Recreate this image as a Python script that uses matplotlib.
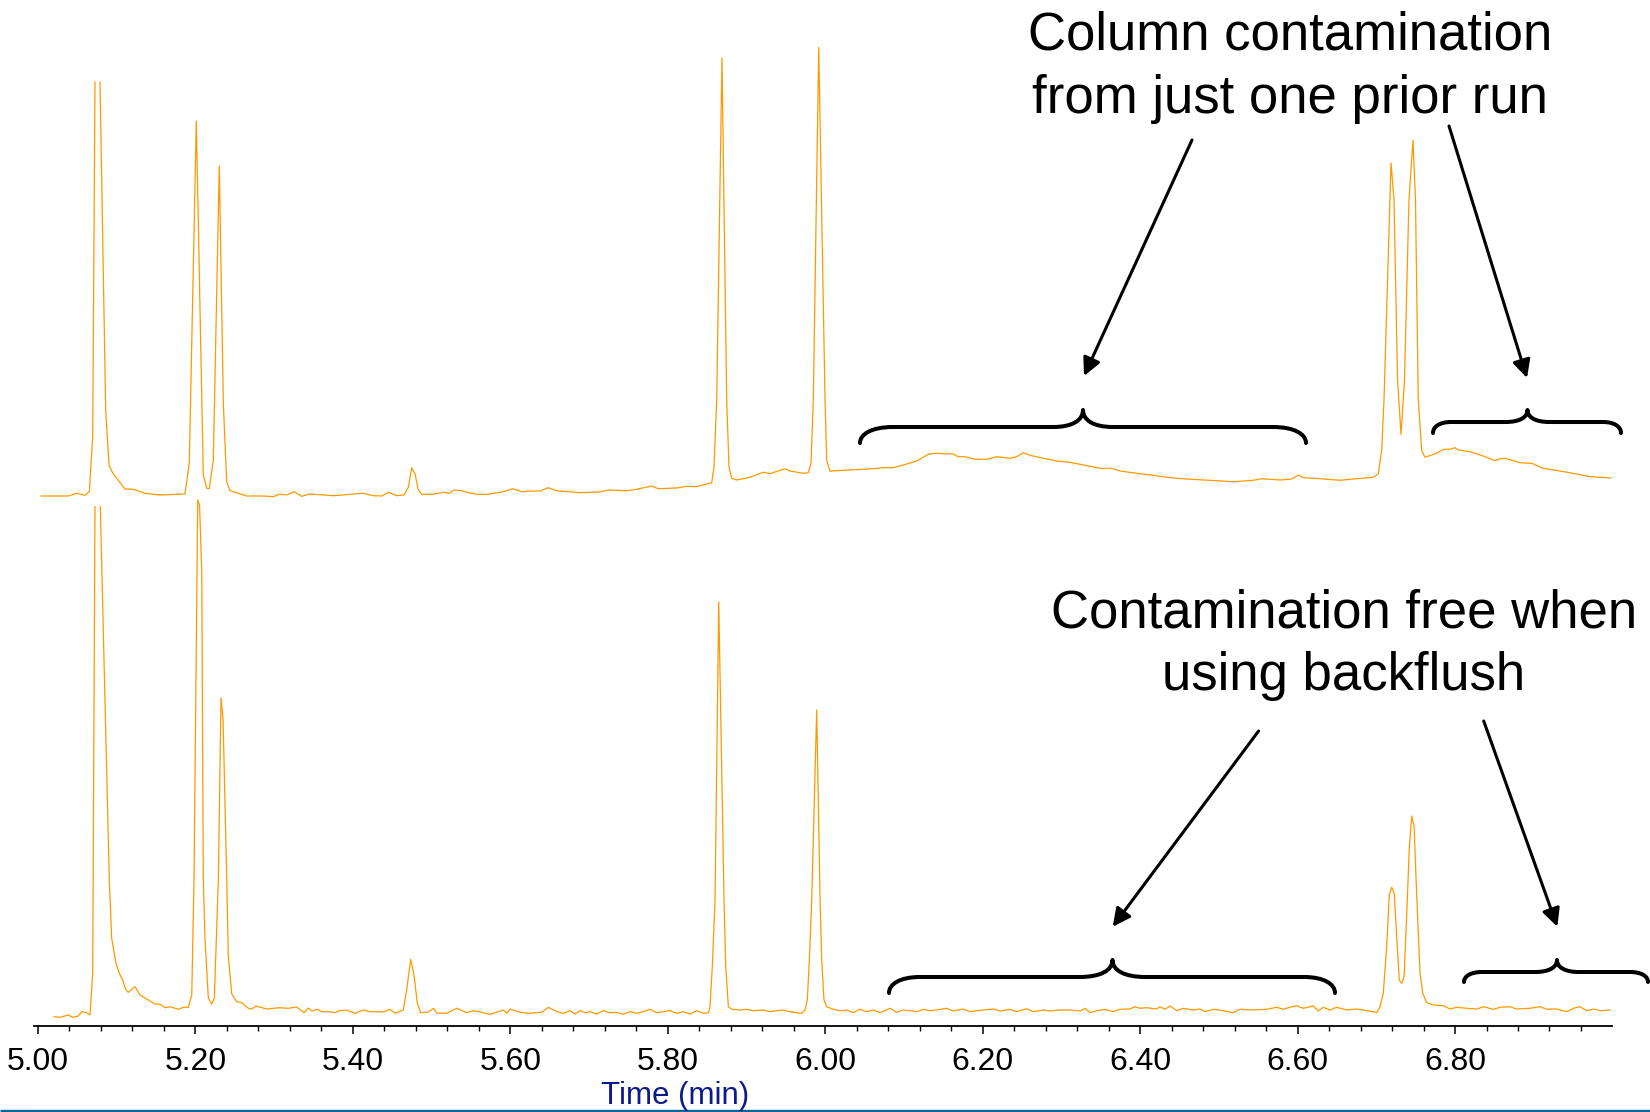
import numpy as np
import matplotlib
matplotlib.use("Agg")
import matplotlib.pyplot as plt
from matplotlib.path import Path
from matplotlib.patches import PathPatch
from matplotlib.ticker import MultipleLocator, FormatStrFormatter

nan = np.nan

# ---------------- data ----------------
# upper chromatogram: one prior run, no backflush
t_upper = [5.0039, 5.0386, 5.0493, 5.0598, 5.0653, 5.0696, 5.0725, nan,
           5.0789, 5.0861, 5.0903, 5.0950, 5.1106, 5.1212, 5.1360, 5.1551, 5.1868, 5.1923,
           5.2012, 5.2101, 5.2144, 5.2177, 5.2228, 5.2304, 5.2355, 5.2398, 5.2440, 5.2652,
           5.2863, 5.2990, 5.3075, 5.3160, 5.3257, 5.3351, 5.3456, 5.3752, 5.4133, 5.4260,
           5.4367, 5.4451, 5.4558, 5.4650, 5.4705, 5.4748, 5.4790, 5.4832, 5.4875, 5.5022,
           5.5150, 5.5226, 5.5285, 5.5383, 5.5467, 5.5574, 5.5721, 5.5912, 5.6031, 5.6145,
           5.6272, 5.6378, 5.6483, 5.6590, 5.6886, 5.7140, 5.7245, 5.7479, 5.7606, 5.7797,
           5.7880, 5.8114, 5.8241, 5.8368, 5.8495, 5.8559, 5.8588, 5.8622, 5.8689, 5.8749,
           5.8778, 5.8813, 5.8876, 5.9045, 5.9214, 5.9299, 5.9490, 5.9553, 5.9722, 5.9786,
           5.9820, 5.9849, 5.9918, 5.9998, 6.0019, 6.0061, 6.0125, 6.0315, 6.0611, 6.0738,
           6.0865, 6.0992, 6.1162, 6.1310, 6.1395, 6.1627, 6.1691, 6.1776, 6.1903, 6.2052,
           6.2179, 6.2348, 6.2433, 6.2517, 6.2602, 6.2771, 6.2941, 6.3110, 6.3279, 6.3491,
           6.3640, 6.3745, 6.3957, 6.4168, 6.4380, 6.4592, 6.4803, 6.5015, 6.5184, 6.5438,
           6.5545, 6.5778, 6.5926, 6.6010, 6.6073, 6.6285, 6.6539, 6.6751, 6.6962, 6.7025,
           6.7069, 6.7098, 6.7187, 6.7225, 6.7270, 6.7314, 6.7358, 6.7415, 6.7466, 6.7498,
           6.7533, 6.7576, 6.7618, 6.7767, 6.7851, 6.7936, 6.7999, 6.8041, 6.8190, 6.8359,
           6.8508, 6.8571, 6.8656, 6.8825, 6.8974, 6.9121, 6.9333, 6.9546, 6.9715, 6.9981]
h_upper = [0, 0, 2.7, 0.7, 4.3, 59, 414, nan,
           414, 86, 31, 23, 7, 6.7, 2.7, 1, 2, 33,
           375, 21, 7.7, 7.3, 36, 330, 93, 14.3, 5.3, 0,
           0, -0.7, 2, 1, 4.3, -0.3, 2, 0.3, 2.7, 0.3,
           0, 3.7, 0.3, 1, 8.7, 28.3, 22, 6, 1.7, 1.7,
           3.7, 2.7, 6, 5.3, 3.3, 1.7, 1.7, 4.3, 7.3, 4.3,
           5, 5, 8.3, 5.3, 3.3, 4, 6, 5.3, 6.7, 10,
           7.3, 8, 9.7, 9.3, 12, 13.3, 29.3, 96, 438, 96,
           29.3, 17.7, 16, 18.7, 23.7, 22.3, 27.3, 25, 22.7, 23.3,
           32.7, 96, 448.6, 96, 36, 24.7, 25.3, 26, 27.3, 28.3,
           28.3, 31, 35, 41.7, 42.7, 42, 39.3, 39.3, 36.7, 36.7,
           39.3, 37.7, 39.3, 43.3, 40.7, 37.7, 35, 33.7, 31, 27.7,
           27.7, 25, 22.7, 20.7, 18.3, 17, 16, 15, 14.3, 15.7,
           17.3, 16, 17, 21, 18.3, 17.3, 15.7, 17.3, 18.7, 22,
           46, 96, 333, 296, 116, 61.7, 116, 296, 356, 296,
           96, 46, 38.7, 42.7, 46.7, 46.7, 48.3, 46, 44.3, 40,
           35.3, 37.3, 37.3, 33.3, 32.7, 27.7, 25, 22, 19.3, 18]

# lower chromatogram: with backflush
t_lower = [5.0205, 5.0281, 5.0386, 5.0442, 5.0513, 5.0556, 5.0620, 5.0662, 5.0696, 5.0725,
           nan, 5.0793, 5.0907, 5.0937, 5.0992, 5.1034, 5.1077, 5.1115, 5.1148, 5.1233,
           5.1297, 5.1487, 5.1551, 5.1614, 5.1678, 5.1783, 5.1847, 5.1910, 5.1954, 5.1983,
           5.2030, 5.2053, 5.2081, 5.2101, 5.2123, 5.2165, 5.2208, 5.2241, 5.2292, 5.2326,
           5.2352, 5.2399, 5.2418, 5.2462, 5.2525, 5.2589, 5.2673, 5.2716, 5.2770, 5.2906,
           5.3075, 5.3181, 5.3287, 5.3380, 5.3435, 5.3478, 5.3549, 5.3605, 5.3710, 5.3774,
           5.3816, 5.3922, 5.4028, 5.4133, 5.4218, 5.4387, 5.4472, 5.4536, 5.4641, 5.4684,
           5.4735, 5.4777, 5.4819, 5.4862, 5.4959, 5.5022, 5.5073, 5.5192, 5.5319, 5.5447,
           5.5530, 5.5657, 5.5743, 5.5912, 5.5955, 5.5997, 5.6124, 5.6251, 5.6400, 5.6483,
           5.6590, 5.6674, 5.6759, 5.6822, 5.6886, 5.6949, 5.7013, 5.7098, 5.7182, 5.7267,
           5.7352, 5.7436, 5.7521, 5.7606, 5.7690, 5.7775, 5.7860, 5.7944, 5.8029, 5.8114,
           5.8198, 5.8283, 5.8368, 5.8452, 5.8516, 5.8537, 5.8566, 5.8601, 5.8648, 5.8715,
           5.8737, 5.8770, 5.8813, 5.8918, 5.9003, 5.9087, 5.9214, 5.9299, 5.9384, 5.9468,
           5.9553, 5.9638, 5.9702, 5.9744, 5.9773, 5.9799, 5.9829, 5.9892, 5.9935, 5.9956,
           5.9985, 6.0019, 6.0103, 6.0188, 6.0273, 6.0357, 6.0442, 6.0527, 6.0611, 6.0696,
           6.0823, 6.0908, 6.0992, 6.1077, 6.1162, 6.1247, 6.1331, 6.1416, 6.1543, 6.1627,
           6.1754, 6.1839, 6.1924, 6.2009, 6.2136, 6.2221, 6.2348, 6.2433, 6.2560, 6.2644,
           6.2771, 6.2856, 6.2983, 6.3110, 6.3237, 6.3300, 6.3364, 6.3449, 6.3554, 6.3660,
           6.3745, 6.3872, 6.3935, 6.3999, 6.4084, 6.4211, 6.4253, 6.4316, 6.4380, 6.4465,
           6.4549, 6.4676, 6.4761, 6.4824, 6.4930, 6.5057, 6.5184, 6.5269, 6.5438, 6.5608,
           6.5735, 6.5819, 6.5904, 6.5989, 6.6073, 6.6200, 6.6264, 6.6327, 6.6412, 6.6497,
           6.6624, 6.6751, 6.6878, 6.6962, 6.7005, 6.7047, 6.7089, 6.7132, 6.7165, 6.7196,
           6.7229, 6.7259, 6.7292, 6.7323, 6.7353, 6.7387, 6.7420, 6.7450, 6.7480, 6.7514,
           6.7556, 6.7590, 6.7641, 6.7725, 6.7852, 6.7937, 6.8022, 6.8149, 6.8276, 6.8360,
           6.8487, 6.8572, 6.8699, 6.8784, 6.8953, 6.9080, 6.9165, 6.9292, 6.9419, 6.9503,
           6.9588, 6.9673, 6.9757, 6.9842, 6.9968]
h_lower = [-2.7, -3.3, -1, -3.3, -2, 2.3, 1.3, -1, 40.7, 507.3,
           nan, 507.3, 134, 75.7, 50.7, 40.7, 34, 24.7, 21.7, 27.3,
           19, 10, 9.7, 6.3, 7.3, 4.7, 6.7, 6.7, 19, 134,
           514, 509, 444, 134, 74, 15.7, 10, 15.7, 134, 316,
           294, 134, 59, 20, 12.3, 11.3, 5.7, 5, 8, 5,
           6.3, 5.7, 7, 1.3, 6, 3, 4.7, 2.3, 2.3, 1.3,
           3, 4, 0.7, 4, 2.3, 2, 4.7, 0.7, 4, 24,
           54.7, 39, 10.7, 1.3, 2, 5.7, 0.7, 0.7, 5.7, 1.3,
           3.3, 1.3, -0.3, 4, 0.7, 5, 1.7, 0.7, 1.7, 6.7,
           2.3, 0.7, 3.3, 0, 3.3, 1.3, 2.3, 0, 3.3, 1.3,
           1.7, -0.3, 2.3, 0.7, 2.3, 4.7, 1.3, 2.3, 3.3, 0.7,
           2.3, 0, 3.3, 0.7, 1.3, 7.3, 47.3, 114, 412, 114,
           47.3, 7.3, 4.7, 4, 4.7, 3.3, 4, 2.3, 3.3, 4,
           2.3, 1.3, 0.7, 4, 14, 54, 114, 304, 114, 54,
           14, 7.3, 4.7, 3.3, 4, 1.3, 4.7, 2.3, 4, 1.3,
           5.7, 1.7, 4, 3.3, 2.3, 4.7, 3.3, 4, 5.7, 3,
           5, 2.3, 3.3, 4, 5, 3, 4.7, 2.3, 5.3, 2.3,
           4, 3, 4, 4, 3, 5.7, 1.3, 3.3, 4.7, 2.3,
           4.7, 5, 7.3, 5.7, 6.3, 5, 7.3, 4.7, 8, 3.3,
           5.7, 4, 5, 2.3, 4.7, 3.3, 1.3, 4.7, 4, 4.7,
           6.7, 4.7, 6.7, 8.3, 5.7, 8, 3, 6.7, 4, 6.7,
           4, 5, 3.3, 2.3, 1.3, 7.3, 20.7, 67.3, 119, 126.7,
           120, 77.3, 34, 30.7, 37.3, 100.7, 167.3, 198, 187.3, 117.3,
           40.7, 20.7, 11.3, 9, 8.3, 5, 6.7, 5.7, 5, 7.3,
           4.7, 6.7, 7.3, 5, 5.7, 7.3, 4.7, 5, 2.3, 5.7,
           7.3, 3.3, 5, 3.3, 4]

tick_values = [5.00, 5.20, 5.40, 5.60, 5.80, 6.00, 6.20, 6.40, 6.60, 6.80]
x_label = "Time (min)"
note_top = ["Column contamination", "from just one prior run"]
note_bottom = ["Contamination free when", "using backflush"]

# ---------------- layout ----------------
W, H, DPI = 1650, 1112, 100
UPPER_OFFSET = 530
LOWER_OFFSET = 12
FONT = "Liberation Sans"
TRACE = "#FF9900"

fig = plt.figure(figsize=(W / DPI, H / DPI), dpi=DPI, facecolor="white")
ax = fig.add_axes([34 / W, 86 / H, 1578 / W, 1026 / H])
ax.set_xlim(4.99505, 6.9994)
ax.set_ylim(0, 1026)

ax.plot(t_upper, np.array(h_upper) + UPPER_OFFSET, color=TRACE, lw=0.9,
        solid_joinstyle="round")
ax.plot(t_lower, np.array(h_lower) + LOWER_OFFSET, color=TRACE, lw=0.9,
        solid_joinstyle="round")

for s in ("left", "right", "top"):
    ax.spines[s].set_visible(False)
ax.spines["bottom"].set_linewidth(1.3)
ax.yaxis.set_visible(False)
ax.set_xticks(tick_values)
ax.xaxis.set_major_formatter(FormatStrFormatter("%.2f"))
ax.xaxis.set_minor_locator(MultipleLocator(0.04))
ax.tick_params(axis="x", which="major", length=6, width=1.1, pad=9,
               labelsize=23, direction="out")
ax.tick_params(axis="x", which="minor", length=3.5, width=1.0, direction="out")
for lab in ax.get_xticklabels():
    lab.set_fontfamily(FONT)
ax.patch.set_alpha(0)

# ---------------- overlay for annotations (pixel coordinates) ----------------
ov = fig.add_axes([0, 0, 1, 1], zorder=5)
ov.set_xlim(0, W)
ov.set_ylim(H, 0)
ov.axis("off")
ov.patch.set_alpha(0)

ov.text(675, 1104, x_label, ha="center", va="baseline", fontsize=22.5,
        family=FONT, color="#0B1A8C")
ov.plot([0, W], [1110.5, 1110.5], color="#0B6699", lw=2.4, solid_capstyle="butt")

ov.text(1290, 50, note_top[0], ha="center", va="baseline", fontsize=38, family=FONT)
ov.text(1290, 113, note_top[1], ha="center", va="baseline", fontsize=38, family=FONT)
ov.text(1344, 628, note_bottom[0], ha="center", va="baseline", fontsize=38, family=FONT)
ov.text(1344, 690, note_bottom[1], ha="center", va="baseline", fontsize=38, family=FONT)


def brace(x0, x1, xm, y_end, y_flat, y_tip, r, w):
    dy_e = y_end - y_flat
    dy_t = y_flat - y_tip
    verts = [
        (x0, y_end),
        (x0, y_end - dy_e * 0.55), (x0 + r * 0.35, y_flat), (x0 + r, y_flat),
        (xm - w, y_flat),
        (xm - w * 0.35, y_flat), (xm, y_flat - dy_t * 0.4), (xm, y_tip),
        (xm, y_flat - dy_t * 0.4), (xm + w * 0.35, y_flat), (xm + w, y_flat),
        (x1 - r, y_flat),
        (x1 - r * 0.35, y_flat), (x1, y_end - dy_e * 0.55), (x1, y_end),
    ]
    codes = [Path.MOVETO,
             Path.CURVE4, Path.CURVE4, Path.CURVE4,
             Path.LINETO,
             Path.CURVE4, Path.CURVE4, Path.CURVE4,
             Path.CURVE4, Path.CURVE4, Path.CURVE4,
             Path.LINETO,
             Path.CURVE4, Path.CURVE4, Path.CURVE4]
    ov.add_patch(PathPatch(Path(verts, codes), fill=False, lw=2.9, color="black",
                           capstyle="round", joinstyle="round"))


brace(860, 1306, 1083, 443, 427, 410, 33, 30)
brace(1433, 1621, 1527.5, 433, 422, 410, 18, 22)
brace(889, 1335, 1112.5, 993, 977, 960, 31, 33)
brace(1464, 1648, 1557, 982, 972, 960, 18, 22)


def arrow(x0, y0, x1, y1):
    ov.annotate("", xy=(x1, y1), xytext=(x0, y0),
                arrowprops=dict(arrowstyle="-|>,head_length=0.4,head_width=0.2",
                                mutation_scale=27, lw=2.2, color="black",
                                shrinkA=0, shrinkB=0))


arrow(1192, 140, 1084, 376)
arrow(1449, 126, 1527, 378)
arrow(1258.6, 731, 1112.7, 926.7)
arrow(1483.7, 721, 1557.3, 926.7)

fig.savefig("out.png", dpi=DPI, facecolor="white")
